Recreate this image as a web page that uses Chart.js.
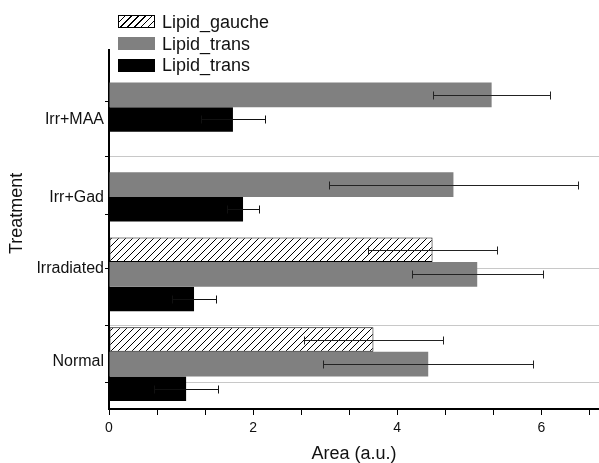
<!DOCTYPE html>
<html>
<head>
<meta charset="utf-8">
<script src="https://cdn.jsdelivr.net/npm/chart.js@4/dist/chart.umd.min.js"></script>
<style>
  html, body { margin: 0; padding: 0; background: #fff; }
  #wrap { position: relative; width: 599px; height: 463px; }
  #legend { position: absolute; left: 118px; top: 11px; font-family: "Liberation Sans", Arial, sans-serif; font-size: 18px; line-height: 20px; color: #111; }
  .item { display: flex; align-items: center; height: 21.7px; }
  .sw { width: 37px; height: 13px; box-sizing: border-box; margin-right: 7px; }
</style>
</head>
<body>
<div id="wrap">
  <canvas id="c" width="599" height="463"></canvas>
  <div id="legend"></div>
</div>
<script>
// ---- data ----
const categories = ['Irr+MAA', 'Irr+Gad', 'Irradiated', 'Normal'];
const seriesNames = ['Lipid_gauche', 'Lipid_trans', 'Lipid_trans'];
const gaucheVals = [null, null, 4.49, 3.67];
const gaucheErr  = [null, null, 0.90, 0.96];
const transGrayVals = [5.31, 4.78, 5.11, 4.43];
const transGrayErr  = [0.81, 1.73, 0.91, 1.46];
const transBlackVals = [1.72, 1.86, 1.18, 1.07];
const transBlackErr  = [0.44, 0.22, 0.31, 0.44];

// y-axis ticks (in category units, 0 = top, 4 = bottom)
const yTickPos  = [0.57, 0.78, 1.19, 1.65, 1.83, 2.44, 3.07, 3.47, 3.70];
const yTickText = ['', 'Irr+MAA', '', 'Irr+Gad', '', 'Irradiated', '', 'Normal', ''];
const yTickMark = [1, 0, 1, 0, 1, 1, 1, 0, 1];
const yGridLine = [0, 0, 1, 0, 0, 1, 1, 0, 1];

// x-axis ticks
const xMax = 6.8;
const xMajorLabels = ['0', '2', '4', '6'];

const yTitle = 'Treatment';
const xTitle = 'Area (a.u.)';

// ---- hatch pattern ----
function makeHatch() {
  const s = 7;
  const c = document.createElement('canvas');
  c.width = s; c.height = s;
  const g = c.getContext('2d');
  g.fillStyle = '#fff'; g.fillRect(0, 0, s, s);
  g.strokeStyle = '#000'; g.lineWidth = 1;
  g.beginPath();
  g.moveTo(0, s); g.lineTo(s, 0);
  g.moveTo(-2, 2); g.lineTo(2, -2);
  g.moveTo(s - 2, s + 2); g.lineTo(s + 2, s - 2);
  g.stroke();
  return g.createPattern(c, 'repeat');
}
const ctx = document.getElementById('c').getContext('2d');
const hatch = makeHatch();

const errs = [gaucheErr, transGrayErr, transBlackErr];
const errColors = ['#222', '#222', '#111'];
const font = "'Liberation Sans', Arial, sans-serif";

const errorBarPlugin = {
  id: 'errbars',
  afterDatasetsDraw(chart) {
    const g = chart.ctx;
    const xs = chart.scales.x;
    g.save();
    g.lineWidth = 1;
    chart.data.datasets.forEach((ds, i) => {
      const meta = chart.getDatasetMeta(i);
      g.strokeStyle = errColors[i];
      meta.data.forEach((el, j) => {
        const v = ds.data[j], e = errs[i][j];
        if (v == null || e == null) return;
        const y = Math.round(el.y) + 0.5;
        const x1 = Math.round(xs.getPixelForValue(v - e)) + 0.5;
        const x2 = Math.round(xs.getPixelForValue(v + e)) + 0.5;
        g.beginPath();
        g.moveTo(x1, y); g.lineTo(x2, y);
        g.moveTo(x1, y - 4); g.lineTo(x1, y + 4);
        g.moveTo(x2, y - 4); g.lineTo(x2, y + 4);
        g.stroke();
      });
    });
    g.restore();
  }
};

// y-axis title placed where the original has it (slightly above the axis centre)
const yTitlePlugin = {
  id: 'ytitle',
  afterDraw(chart) {
    const g = chart.ctx;
    const ys = chart.scales.y2;
    g.save();
    g.translate(17, ys.getPixelForValue(1.82));
    g.rotate(-Math.PI / 2);
    g.font = "18px " + font;
    g.fillStyle = '#111';
    g.textAlign = 'center';
    g.textBaseline = 'middle';
    g.fillText(yTitle, 0, 0);
    g.restore();
  }
};

const chart = new Chart(ctx, {
  type: 'bar',
  data: {
    labels: categories,
    datasets: [
      { label: seriesNames[0], data: gaucheVals, backgroundColor: hatch, borderColor: '#000', borderWidth: 1, borderSkipped: false },
      { label: seriesNames[1], data: transGrayVals, backgroundColor: '#808080', borderWidth: 0 },
      { label: seriesNames[2], data: transBlackVals, backgroundColor: '#000', borderWidth: 0 }
    ]
  },
  options: {
    indexAxis: 'y',
    responsive: false,
    animation: false,
    devicePixelRatio: 1,
    categoryPercentage: 0.819,
    barPercentage: 1.0,
    layout: { padding: { top: 50, right: 0, left: 0, bottom: 0 } },
    plugins: { legend: { display: false }, tooltip: { enabled: false } },
    scales: {
      x: {
        type: 'linear',
        min: 0, max: xMax,
        offset: false,
        afterBuildTicks(scale) {
          const t = [];
          for (let i = 0; i * 2 / 3 <= xMax; i++) t.push({ value: (i * 2) / 3 });
          scale.ticks = t;
        },
        afterFit(scale) { scale.height = 54; },
        ticks: {
          autoSkip: false,
          maxRotation: 0,
          padding: 5,
          color: '#111',
          font: { family: font, size: 14 },
          callback(value, index) { return index % 3 === 0 ? xMajorLabels[index / 3] : ''; }
        },
        grid: { drawOnChartArea: false, drawTicks: true, tickLength: 6, tickColor: '#000', tickWidth: 1, offset: false },
        border: { display: true, color: '#000', width: 2 },
        title: { display: true, text: xTitle, color: '#111', font: { family: font, size: 18, lineHeight: 1 }, padding: { top: 0, bottom: 0 } }
      },
      y: {
        type: 'category',
        display: false
      },
      y2: {
        type: 'linear',
        position: 'left',
        min: 0, max: 4,
        reverse: true,
        offset: false,
        afterBuildTicks(scale) { scale.ticks = yTickPos.map(v => ({ value: v })); },
        afterFit(scale) { scale.width = 109; },
        ticks: {
          autoSkip: false,
          padding: 1,
          color: '#111',
          font: { family: font, size: 16 },
          callback(value, index) { return yTickText[index]; }
        },
        grid: {
          offset: false,
          drawOnChartArea: true,
          drawTicks: true,
          tickLength: 4,
          lineWidth: 1,
          color: (c) => (yGridLine[c.index] ? '#c8c8c8' : 'rgba(0,0,0,0)'),
          tickColor: (c) => (yTickMark[c.index] ? '#000' : 'rgba(0,0,0,0)')
        },
        border: { display: true, color: '#000', width: 2 },
        title: { display: false }
      }
    }
  },
  plugins: [errorBarPlugin, yTitlePlugin]
});

// ---- HTML legend built from datasets ----
const legendStyles = [
  'border:1px solid #000;background:repeating-linear-gradient(135deg,#fff 0,#fff 3.6px,#000 3.6px,#000 4.8px);',
  'background:#808080;',
  'background:#000;'
];
const leg = document.getElementById('legend');
chart.data.datasets.forEach((ds, i) => {
  const it = document.createElement('div');
  it.className = 'item';
  const sw = document.createElement('span');
  sw.className = 'sw';
  sw.setAttribute('style', legendStyles[i]);
  const tx = document.createElement('span');
  tx.textContent = ds.label;
  it.appendChild(sw); it.appendChild(tx);
  leg.appendChild(it);
});
</script>
</body>
</html>
